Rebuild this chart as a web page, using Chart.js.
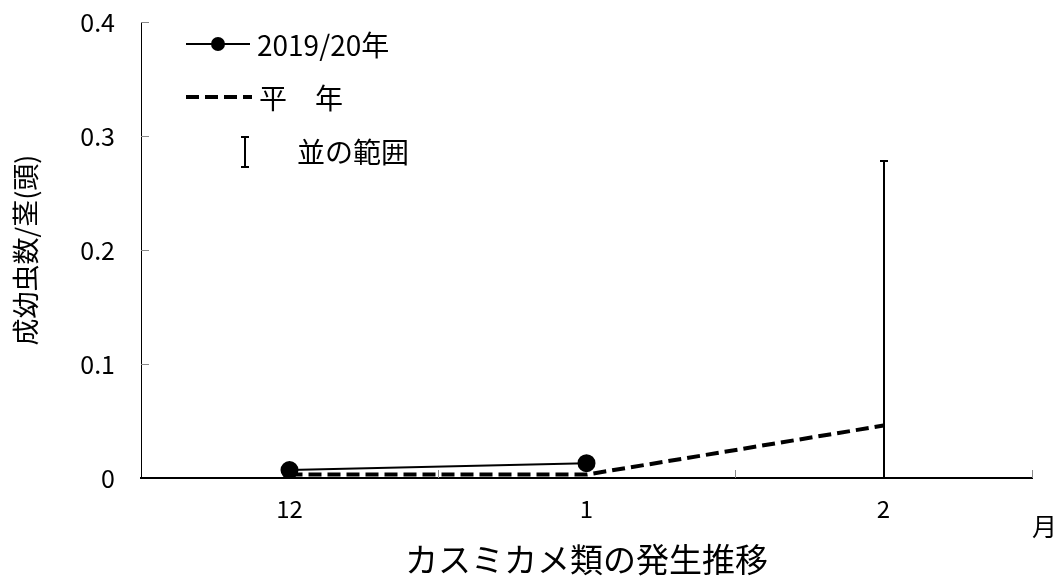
<!DOCTYPE html>
<html>
<head>
<meta charset="utf-8">
<script src="https://cdn.jsdelivr.net/npm/chart.js@4"></script>
<style>
  html, body { margin: 0; padding: 0; background: #fff; }
  #wrap { width: 1061px; height: 583px; }
</style>
</head>
<body>
<div id="wrap"><canvas id="chart" width="1061" height="583"></canvas></div>
<script>
// ------------ //
//  CHART DATA  //
// ------------ //

const months = ['12', '1', '2'];
const thisSeason = [0.007, 0.013, null];   // 2019/20年
const normalYear = [0.003, 0.003, 0.046];  // 平年
const rangeLow = [null, null, 0];          // 並の範囲 (下限)
const rangeHigh = [null, null, 0.278];     // 並の範囲 (上限)
const yTicks = [0, 0.1, 0.2, 0.3, 0.4];

const FONT = '"Noto Sans CJK JP", "Noto Sans", sans-serif';

// Draws the inward tick marks, the normal range bars and the legend
const extrasPlugin = {
  id: 'extras',
  afterDatasetsDraw(chart) {
    const ctx = chart.ctx;
    const area = chart.chartArea;
    const x = chart.scales.x;
    const y = chart.scales.y;

    ctx.save();

    // tick marks pointing into the plot
    ctx.strokeStyle = '#888';
    ctx.lineWidth = 1;
    const step = (area.right - area.left) / months.length;
    for (let i = 1; i <= months.length; i++) {
      const px = Math.round(area.left + i * step) + 0.5;
      ctx.beginPath();
      ctx.moveTo(px, area.bottom);
      ctx.lineTo(px, area.bottom - 8);
      ctx.stroke();
    }
    yTicks.forEach(function (v) {
      if (v === 0) return;
      const py = Math.round(y.getPixelForValue(v)) + 0.5;
      ctx.beginPath();
      ctx.moveTo(area.left, py);
      ctx.lineTo(area.left + 8, py);
      ctx.stroke();
    });

    // range bars
    ctx.strokeStyle = '#000';
    ctx.lineWidth = 2;
    for (let i = 0; i < months.length; i++) {
      if (rangeHigh[i] == null) continue;
      const px = Math.round(x.getPixelForValue(i));
      const top = y.getPixelForValue(rangeHigh[i]);
      const bot = y.getPixelForValue(rangeLow[i]);
      ctx.beginPath();
      ctx.moveTo(px, top);
      ctx.lineTo(px, bot);
      ctx.moveTo(px - 4, top);
      ctx.lineTo(px + 4, top);
      ctx.stroke();
    }

    // legend
    const lx = area.left + 45;
    ctx.fillStyle = '#000';
    ctx.font = '28px ' + FONT;
    ctx.textBaseline = 'middle';
    ctx.textAlign = 'left';

    ctx.lineWidth = 2;
    ctx.beginPath();
    ctx.moveTo(lx, area.top + 22);
    ctx.lineTo(lx + 64, area.top + 22);
    ctx.stroke();
    ctx.beginPath();
    ctx.arc(lx + 32, area.top + 22, 7, 0, Math.PI * 2);
    ctx.fill();
    ctx.fillText('2019/20年', lx + 71, area.top + 23);

    ctx.lineWidth = 4;
    ctx.setLineDash([13, 6]);
    ctx.beginPath();
    ctx.moveTo(lx, area.top + 75);
    ctx.lineTo(lx + 66, area.top + 75);
    ctx.stroke();
    ctx.setLineDash([]);
    ctx.fillText('平　年', lx + 73, area.top + 76);

    ctx.lineWidth = 2;
    const bx = lx + 59;
    ctx.beginPath();
    ctx.moveTo(bx, area.top + 115);
    ctx.lineTo(bx, area.top + 145);
    ctx.moveTo(bx - 4, area.top + 115);
    ctx.lineTo(bx + 4, area.top + 115);
    ctx.moveTo(bx - 4, area.top + 145);
    ctx.lineTo(bx + 4, area.top + 145);
    ctx.stroke();
    ctx.fillText('並の範囲', lx + 111, area.top + 130);

    // unit label for months
    ctx.font = '25px ' + FONT;
    ctx.fillText('月', area.right, area.bottom + 48);

    ctx.restore();
  }
};

new Chart(document.getElementById('chart'), {
  type: 'line',
  data: {
    labels: months,
    datasets: [
      {
        label: '平　年',
        data: normalYear,
        borderColor: '#000',
        borderWidth: 4,
        borderDash: [13, 6],
        pointRadius: 0,
        tension: 0,
        fill: false
      },
      {
        label: '2019/20年',
        data: thisSeason,
        borderColor: '#000',
        backgroundColor: '#000',
        borderWidth: 2,
        pointRadius: 8,
        pointBackgroundColor: '#000',
        tension: 0,
        fill: false
      }
    ]
  },
  options: {
    responsive: false,
    animation: false,
    layout: { padding: { left: 0, right: 29, top: 22, bottom: 0 } },
    plugins: {
      legend: { display: false },
      tooltip: { enabled: false }
    },
    scales: {
      x: {
        offset: true,
        grid: { display: false },
        border: { color: '#000', width: 2 },
        ticks: { color: '#000', padding: 8, font: { family: FONT, size: 24 } },
        title: {
          display: true,
          text: 'カスミカメ類の発生推移',
          color: '#000',
          font: { family: FONT, size: 33 },
          padding: { top: 0, bottom: 4 }
        },
        afterFit(scale) { scale.height = 105; }
      },
      y: {
        min: 0,
        max: 0.4,
        grid: { display: false, drawTicks: false },
        border: { color: '#000', width: 1 },
        afterBuildTicks(scale) {
          scale.ticks = yTicks.map(function (v) { return { value: v }; });
        },
        ticks: {
          color: '#000',
          padding: 26,
          font: { family: FONT, size: 25 },
          callback: function (v) { return String(v); }
        },
        title: {
          display: true,
          text: '成幼虫数/茎(頭)',
          color: '#000',
          font: { family: FONT, size: 27 },
          padding: { top: 10, bottom: 0 }
        },
        afterFit(scale) {
          scale.width = 141;
          scale.paddingTop = 0;
          scale.paddingBottom = 0;
        }
      }
    }
  },
  plugins: [extrasPlugin]
});
</script>
</body>
</html>
